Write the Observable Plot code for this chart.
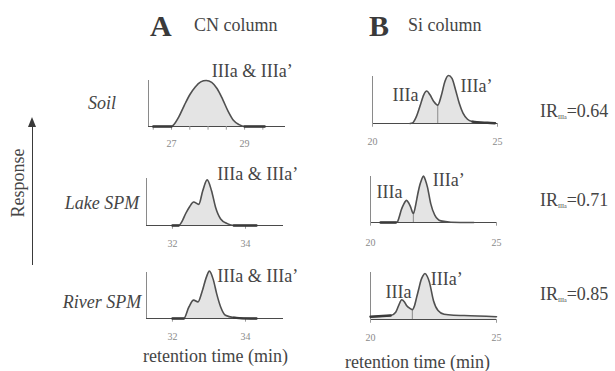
<!DOCTYPE html>
<html><head><meta charset="utf-8">
<script src="https://cdn.jsdelivr.net/npm/d3@7"></script>
<script src="https://cdn.jsdelivr.net/npm/@observablehq/plot@0.6"></script>
<style>
html,body{margin:0;padding:0;background:#fff;font-family:'Liberation Serif','Times New Roman',serif;}
#fig{position:relative;width:615px;height:371px;overflow:hidden;color:#454545;}
#fig svg{position:absolute;}
.t{position:absolute;white-space:nowrap;line-height:1;}
</style></head><body><div id="fig"></div>
<script>
// ---------- data ----------
const samples = ["Soil", "Lake SPM", "River SPM"];
const irValues = ["0.64", "0.71", "0.85"];

// CN column (A)
const cnSoilTime = [26.5, 27.0, 27.05, 27.2, 27.35, 27.5, 27.65, 27.8, 27.95, 28.1, 28.25, 28.4, 28.55, 28.7, 28.85, 29.0, 29.55];
const cnSoilResp = [0, 0, 3, 21, 46, 69, 86, 97, 100, 96, 82, 59, 33, 13, 4, 0, 0];
const cnLakeTime = [32.0, 32.17, 32.27, 32.36, 32.47, 32.58, 32.72, 32.83, 32.95, 33.07, 33.18, 33.32, 33.5, 33.68, 34.3];
const cnLakeResp = [0, 0, 10, 25, 40, 50, 45, 74, 97, 74, 39, 14, 4, 0, 0];
const cnRiverTime = [32.0, 32.31, 32.45, 32.58, 32.7, 32.81, 32.93, 33.01, 33.12, 33.21, 33.32, 33.45, 33.68, 34.14, 34.3];
const cnRiverResp = [0, 0, 25, 40, 36, 58, 90, 103, 84, 54, 25, 7, 2, 0, 0];

// Si column (B)
const siSoilTime = [21.5, 21.6, 21.75, 21.9, 22.05, 22.17, 22.3, 22.45, 22.61, 22.75, 22.9, 23.04, 23.18, 23.32, 23.47, 23.62, 23.8, 24.0, 24.3, 24.6, 24.9];
const siSoilResp = [0, 1, 14, 37, 61, 69, 61, 47, 39, 59, 90, 102, 96, 72, 43, 22, 9, 4, 2, 1.5, 0.5];
const siLakeTime = [20.4, 21.0, 21.06, 21.14, 21.22, 21.32, 21.43, 21.52, 21.59, 21.7, 21.8, 21.88, 21.95, 22.02, 22.1, 22.18, 22.26, 22.39, 22.55, 22.79, 23.19, 24.1];
const siLakeResp = [0, 0, 1, 12, 27, 40, 48, 42, 34, 19.5, 40, 63, 80, 92, 101, 92, 77, 41, 16, 3.5, 0.7, 0];
const siRiverTime = [20.0, 20.8, 21.0, 21.12, 21.24, 21.34, 21.43, 21.55, 21.66, 21.75, 21.83, 21.92, 22.0, 22.08, 22.16, 22.25, 22.34, 22.5, 22.68, 22.92, 23.3, 23.72, 25.0];
const siRiverResp = [6, 8.5, 15.6, 30, 42, 38, 30, 24, 21, 30, 47, 66, 83, 93, 98, 92, 79, 40, 19, 11, 9, 8.5, 6];

// valley (IIIa / IIIa' split) positions on the Si column
const siValleyTime = [22.61, 21.7, 21.66];
const siValleyResp = [39, 19.5, 21];

// noisy (thicker) baseline stretches, as [start, end] retention times
const cnSoilNoise = [[26.5, 27.0], [29.0, 29.55]];
const cnLakeNoise = [[32.0, 32.17], [33.68, 34.3]];
const cnRiverNoise = [[32.0, 32.31], [33.68, 34.3]];
const siSoilNoise = [[24.0, 24.9]];
const siLakeNoise = [[20.4, 21.0]];
const siRiverNoise = [[20.0, 20.8]];

// ticks
const cnSoilTicks = [26.5, 27, 27.5, 28, 28.5, 29, 29.5];
const cnSoilTickLabels = [27, 29];
const cnSpmTicks = [32, 34];
const cnSpmTickLabels = [32, 34];
const siTicks = [20, 25];
const siTickLabels = [20, 25];

// ---------- layout ----------
const fig = document.getElementById("fig");
const FONT = "'Liberation Serif', 'Times New Roman', serif";

function panel(cfg) {
  const data = cfg.t.map((t, i) => ({t, r: cfg.r[i]}));
  const mL = 14, mR = 60, mT = 50, mB = 34;
  const w = cfg.px.R - cfg.px.L + mL + mR;
  const h = cfg.px.B - cfg.px.T + mT + mB;
  const startLabels = cfg.peaks.filter(d => d.anchor === "start");
  const endLabels = cfg.peaks.filter(d => d.anchor === "end");
  const marks = [
    Plot.areaY(data, {x: "t", y: "r", fill: "#e4e4e4", curve: "monotone-x"}),
    Plot.ruleY([0], {stroke: "#4a4a4a", strokeWidth: 1.2}),
    Plot.ruleX([cfg.domain[0]], {stroke: "#8a8a8a", strokeWidth: 1}),
    Plot.ruleX(cfg.ticks, {x: d => d, y1: 0, y2: -8, stroke: "#9a9a9a", strokeWidth: 1}),
    Plot.text(cfg.tickLabels, {x: d => d, text: d => String(d), frameAnchor: "bottom", dy: cfg.labelDy, fill: "#8a8a8a", fontSize: 10, fontFamily: FONT}),
  ];
  if (cfg.divider) marks.push(Plot.ruleX([cfg.divider[0]], {x: d => d, y1: 0, y2: cfg.divider[1], stroke: "#8a8a8a", strokeWidth: 1}));
  marks.push(Plot.lineY(data, {x: "t", y: "r", stroke: "#505050", strokeWidth: 1.6, curve: "monotone-x"}));
  for (const [a, b] of cfg.noise || []) {
    marks.push(Plot.lineY(data.filter(d => d.t >= a && d.t <= b), {x: "t", y: "r", stroke: "#3a3a3a", strokeWidth: 2.4, curve: "monotone-x"}));
  }
  if (startLabels.length) marks.push(Plot.text(startLabels, {x: "x", y: "y", text: "text", textAnchor: "start", fontSize: 18, fill: "#454545", fontFamily: FONT}));
  if (endLabels.length) marks.push(Plot.text(endLabels, {x: "x", y: "y", text: "text", textAnchor: "end", fontSize: 18, fill: "#454545", fontFamily: FONT}));
  const svg = Plot.plot({
    width: w, height: h,
    marginLeft: mL, marginRight: mR, marginTop: mT, marginBottom: mB,
    x: {domain: cfg.domain, axis: null},
    y: {domain: [0, 100], axis: null},
    style: {background: "transparent", overflow: "visible", fontFamily: FONT},
    marks
  });
  svg.style.left = (cfg.px.L - mL) + "px";
  svg.style.top = (cfg.px.T - mT) + "px";
  fig.appendChild(svg);
}

const dual = ["IIIa & IIIa\u2019"];
panel({t: cnSoilTime, r: cnSoilResp, domain: [26.37, 30.12], ticks: cnSoilTicks, tickLabels: cnSoilTickLabels, labelDy: 20,
  noise: cnSoilNoise, px: {L: 148, R: 285, T: 80, B: 126}, peaks: [{x: 28.1, y: 120, text: dual[0], anchor: "start"}]});
panel({t: cnLakeTime, r: cnLakeResp, domain: [31.29, 35.04], ticks: cnSpmTicks, tickLabels: cnSpmTickLabels, labelDy: 21,
  noise: cnLakeNoise, px: {L: 146, R: 283, T: 178, B: 225}, peaks: [{x: 33.23, y: 110, text: dual[0], anchor: "start"}]});
panel({t: cnRiverTime, r: cnRiverResp, domain: [31.29, 35.04], ticks: cnSpmTicks, tickLabels: cnSpmTickLabels, labelDy: 21,
  noise: cnRiverNoise, px: {L: 146, R: 283, T: 272, B: 318}, peaks: [{x: 33.23, y: 92, text: dual[0], anchor: "start"}]});
panel({t: siSoilTime, r: siSoilResp, domain: [20, 25], ticks: siTicks, tickLabels: siTickLabels, labelDy: 21,
  noise: siSoilNoise, px: {L: 372, R: 497, T: 76, B: 123}, divider: [siValleyTime[0], siValleyResp[0]],
  peaks: [{x: 21.84, y: 60, text: "IIIa", anchor: "end"}, {x: 23.52, y: 79, text: "IIIa\u2019", anchor: "start"}]});
panel({t: siLakeTime, r: siLakeResp, domain: [20, 25], ticks: siTicks, tickLabels: siTickLabels, labelDy: 23,
  noise: siLakeNoise, px: {L: 370, R: 496, T: 176, B: 222}, divider: [siValleyTime[1], siValleyResp[1]],
  peaks: [{x: 21.27, y: 65, text: "IIIa", anchor: "end"}, {x: 22.47, y: 92, text: "IIIa\u2019", anchor: "start"}]});
panel({t: siRiverTime, r: siRiverResp, domain: [20, 25], ticks: siTicks, tickLabels: siTickLabels, labelDy: 21,
  noise: siRiverNoise, px: {L: 370, R: 496, T: 272, B: 319}, divider: [siValleyTime[2], siValleyResp[2]],
  peaks: [{x: 21.63, y: 57, text: "IIIa", anchor: "end"}, {x: 22.39, y: 85, text: "IIIa\u2019", anchor: "start"}]});

// ---------- text overlays ----------
function txt(html, x, cy, size, opts = {}) {
  const d = document.createElement("div");
  d.className = "t";
  d.innerHTML = html;
  d.style.fontFamily = FONT;
  d.style.fontSize = size + "px";
  d.style.left = x + "px";
  d.style.top = cy + "px";
  let tx = opts.anchor === "middle" ? "-50%" : opts.anchor === "end" ? "-100%" : "0";
  d.style.transform = `translate(${tx}, -50%)`;
  if (opts.bold) d.style.fontWeight = "bold";
  if (opts.italic) d.style.fontStyle = "italic";
  if (opts.color) d.style.color = opts.color;
  fig.appendChild(d);
  return d;
}
txt("A", 150, 26, 30, {bold: true, color: "#3a3a3a"});
txt("CN column", 194, 24.5, 18);
txt("B", 369, 26, 30, {bold: true, color: "#3a3a3a"});
txt("Si column", 408, 24.5, 18);

const rowY = [103, 203, 302];
samples.forEach((s, i) => txt(s, 102, rowY[i], 18, {anchor: "middle", italic: true}));
const irY = [111, 200, 294];
irValues.forEach((v, i) => txt(`IR<span style="font-size:6px;vertical-align:-2px">IIIa</span>=${v}`, 540, irY[i], 18));

txt("retention time (min)", 143, 356, 18);
txt("retention time (min)", 345, 362, 18);

// Response label with arrow
const resp = txt("Response", 18, 183, 18);
resp.style.transformOrigin = "0 0";
resp.style.transform = "rotate(-90deg) translate(-50%, -50%)";
const line = document.createElement("div");
line.style.cssText = "position:absolute;left:31.5px;top:124px;width:0;height:141px;border-left:1.3px solid #3a3a3a;";
fig.appendChild(line);
const head = document.createElement("div");
head.style.cssText = "position:absolute;left:28px;top:117px;width:0;height:0;border-left:4px solid transparent;border-right:4px solid transparent;border-bottom:10px solid #3a3a3a;";
fig.appendChild(head);
</script></body></html>
